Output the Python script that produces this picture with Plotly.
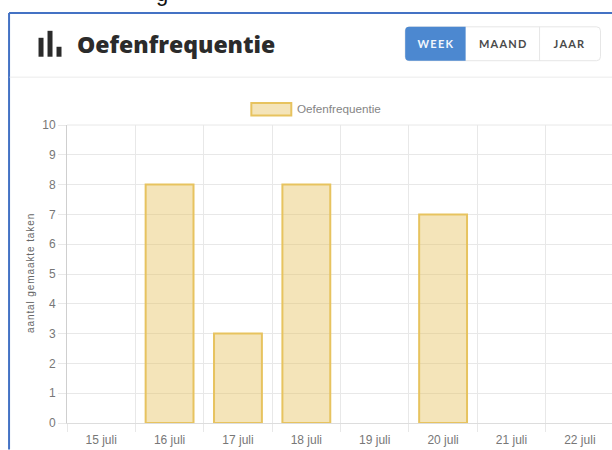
import plotly.graph_objects as go

categories = ["15 juli", "16 juli", "17 juli", "18 juli", "19 juli", "20 juli", "21 juli", "22 juli"]
values = [0, 8, 3, 8, 0, 7, 0, 0]
series_name = "Oefenfrequentie"
y_title = "aantal gemaakte taken"
buttons = ["WEEK", "MAAND", "JAAR"]

W, H = 612, 450
L, R, T, B = 66.5, 0, 124.5, 26.5
PW, PH = W - L - R, H - T - B

def px(x):
    return (x - L) / PW

def py(y):
    return 1 - (y - T) / PH

def rect(x0, y0, x1, y1, fill=None, line=None, lw=1):
    return dict(type="rect", xref="paper", yref="paper", x0=px(x0), x1=px(x1), y0=py(y0), y1=py(y1),
                fillcolor=fill or "rgba(0,0,0,0)", line=dict(color=line or "rgba(0,0,0,0)", width=lw if line else 0), layer="below")

def rrect(x0, y0, x1, y1, rl, rr, fill=None, line=None, lw=1):
    P = lambda x, y: f"{px(x):.5f},{py(y):.5f}"
    d = (f"M{P(x0 + rl, y0)} L{P(x1 - rr, y0)} Q{P(x1, y0)} {P(x1, y0 + rr)} L{P(x1, y1 - rr)} Q{P(x1, y1)} {P(x1 - rr, y1)} "
         f"L{P(x0 + rl, y1)} Q{P(x0, y1)} {P(x0, y1 - rl)} L{P(x0, y0 + rl)} Q{P(x0, y0)} {P(x0 + rl, y0)} Z")
    return dict(type="path", xref="paper", yref="paper", path=d, fillcolor=fill or "rgba(0,0,0,0)",
                line=dict(color=line or "rgba(0,0,0,0)", width=lw if line else 0), layer="below")

def seg(x0, y0, x1, y1, color, lw):
    return dict(type="line", xref="paper", yref="paper", x0=px(x0), x1=px(x1), y0=py(y0), y1=py(y1),
                line=dict(color=color, width=lw), layer="below")

def label(text, x, y, size, color, family, anchor="center", weight=None, angle=0):
    return dict(text=text, xref="paper", yref="paper", x=px(x), y=py(y), xanchor=anchor, yanchor="middle",
                showarrow=False, textangle=angle, font=dict(size=size, color=color, family=family, weight=weight))

fill = "rgba(231,196,100,0.45)"
edge = "#e7c35f"
grid = "#e8e8e8"
tick_color = "#777777"

fig = go.Figure(go.Bar(x=categories, y=values, name=series_name, width=0.7, showlegend=False,
                       marker=dict(color=fill, line=dict(color=edge, width=[2 if v else 0 for v in values]))))

shapes = [
    seg(8.5, 12, 612, 12, "#4472c4", 2),
    seg(8.5, 12, 8.5, 450, "#4472c4", 2),
    seg(9, 76.5, 612, 76.5, "#ebebeb", 1),
    seg(66.5, 124.5, 612, 124.5, grid, 1),
    rect(38, 37, 43, 56, fill="#2b2b2b"),
    rect(47, 30, 52, 56, fill="#2b2b2b"),
    rect(56, 46, 61, 56, fill="#2b2b2b"),
    rrect(405, 26, 600.5, 60, 4, 4, fill="#ffffff", line="#e6e6e6", lw=1),
    rrect(405, 26, 465.5, 60, 4, 0, fill="#4c88d0"),
    seg(539.5, 26, 539.5, 60, "#e6e6e6", 1),
    rect(251, 102.5, 291, 115, fill=fill, line=edge, lw=2),
]

annotations = [
    label("g", 162, -7, 22, "#111111", "Liberation Sans"),
    label("Oefenfrequentie", 74.5, 43.5, 23, "#2b2b2b", "Open Sans", "left", 800),
    label(buttons[0], 435.5, 43, 11, "#f2f6fc", "Lato", weight=700),
    label(buttons[1], 503, 43, 11, "#4a4a4a", "Lato", weight=700),
    label(buttons[2], 570, 43, 11, "#4a4a4a", "Lato", weight=700),
    label(series_name, 295, 108, 11.7, "#858585", "Liberation Sans", "left"),
    label(y_title, 29, 273, 10, "#666666", "Liberation Sans", angle=-90),
]

fig.update_layout(
    width=W, height=H, autosize=False, paper_bgcolor="white", plot_bgcolor="white",
    margin=dict(l=L, r=R, t=T, b=B, pad=0), bargap=0.3, shapes=shapes, annotations=annotations,
    font=dict(family="Liberation Sans", color=tick_color, size=12),
    xaxis=dict(type="category", categoryorder="array", categoryarray=categories, range=[-0.5, 7.47],
               tickson="boundaries", ticks="outside", ticklen=8, tickcolor=grid, gridcolor=grid, showgrid=True,
               ticklabelstandoff=6,
               showline=True, linecolor="#dddddd", linewidth=1, tickfont=dict(size=12, color=tick_color), automargin=False),
    yaxis=dict(range=[0, 10], dtick=1, ticks="outside", ticklen=8, tickcolor=grid, gridcolor=grid, showgrid=True,
               showline=True, linecolor="#cfcfcf", linewidth=1, zeroline=False, tickfont=dict(size=12, color=tick_color), automargin=False),
)
post = """
document.body.style.margin = '0';
document.body.style.overflow = 'hidden';
document.querySelectorAll('.annotation-text').forEach(function (t) {
  if (['WEEK', 'MAAND', 'JAAR'].indexOf(t.textContent) >= 0) { t.style.letterSpacing = '1.2px'; }
  if (t.textContent === 'aantal gemaakte taken') { t.style.letterSpacing = '0.9px'; }
});
"""
fig.write_html("out.html", post_script=post, config={"displayModeBar": False})
